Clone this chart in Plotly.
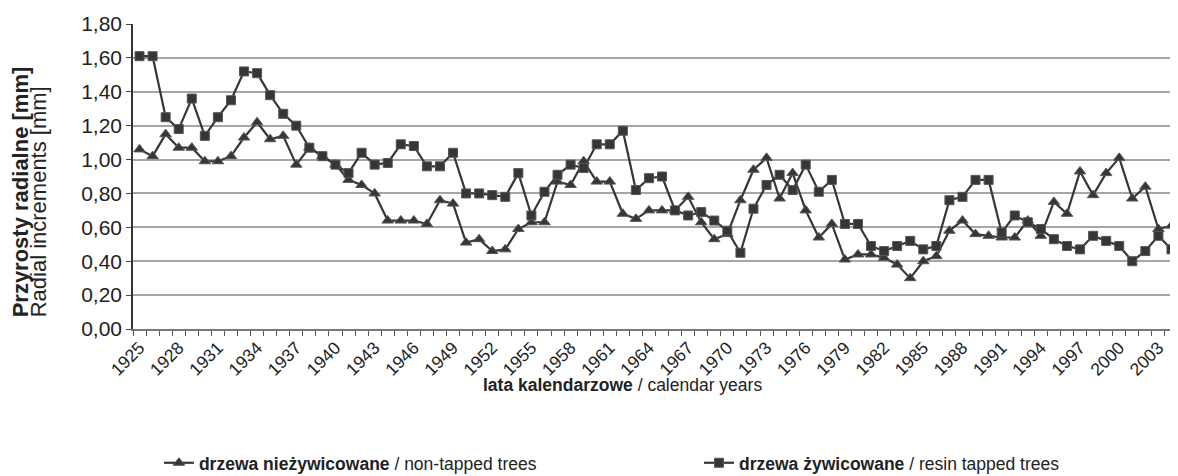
import plotly.graph_objects as go

# years 1925-2004
years = list(range(1925, 2005))

# drzewa nieżywicowane / non-tapped trees
non_tapped = [
    1.06, 1.02, 1.15, 1.07, 1.07, 0.99, 0.99, 1.02, 1.13, 1.22,
    1.12, 1.14, 0.97, 1.07, 1.02, 0.97, 0.88, 0.85, 0.80, 0.64,
    0.64, 0.64, 0.62, 0.76, 0.74, 0.51, 0.53, 0.46, 0.47, 0.59,
    0.63, 0.63, 0.87, 0.85, 0.99, 0.87, 0.87, 0.68, 0.65, 0.70,
    0.70, 0.70, 0.78, 0.63, 0.53, 0.56, 0.76, 0.94, 1.01, 0.77,
    0.92, 0.70, 0.54, 0.62, 0.41, 0.44, 0.44, 0.42, 0.38, 0.30,
    0.40, 0.43, 0.58, 0.64, 0.56, 0.55, 0.54, 0.54, 0.64, 0.55,
    0.75, 0.68, 0.93, 0.79, 0.92, 1.01, 0.77, 0.84, 0.59, 0.61,
]

# drzewa żywicowane / resin tapped trees
tapped = [
    1.61, 1.61, 1.25, 1.18, 1.36, 1.14, 1.25, 1.35, 1.52, 1.51,
    1.38, 1.27, 1.20, 1.07, 1.02, 0.97, 0.92, 1.04, 0.97, 0.98,
    1.09, 1.08, 0.96, 0.96, 1.04, 0.80, 0.80, 0.79, 0.78, 0.92,
    0.67, 0.81, 0.91, 0.97, 0.95, 1.09, 1.09, 1.17, 0.82, 0.89,
    0.90, 0.70, 0.67, 0.69, 0.64, 0.58, 0.45, 0.71, 0.85, 0.91,
    0.82, 0.97, 0.81, 0.88, 0.62, 0.62, 0.49, 0.46, 0.49, 0.52,
    0.47, 0.49, 0.76, 0.78, 0.88, 0.88, 0.57, 0.67, 0.63, 0.59,
    0.53, 0.49, 0.47, 0.55, 0.52, 0.49, 0.40, 0.46, 0.55, 0.47,
]

label_years = years[::3]

FONT = "Arial, Liberation Sans, sans-serif"
LINE = "#363636"

fig = go.Figure()

fig.add_trace(go.Scatter(
    x=years, y=non_tapped, mode="lines+markers",
    name="<b>drzewa nieżywicowane</b> / non-tapped trees",
    line=dict(color=LINE, width=2.2),
    marker=dict(symbol="triangle-up", size=10, color=LINE,
                line=dict(color="#555555", width=1)),
    cliponaxis=False, legend="legend",
))
fig.add_trace(go.Scatter(
    x=years, y=tapped, mode="lines+markers",
    name="<b>drzewa żywicowane</b> / resin tapped trees",
    line=dict(color=LINE, width=2.2),
    marker=dict(symbol="square", size=9, color=LINE,
                line=dict(color="#555555", width=1)),
    cliponaxis=False, legend="legend2",
))

legend_common = dict(orientation="h", yref="container", xref="container",
                     y=0.028, yanchor="middle", font=dict(size=17.5),
                     bgcolor="rgba(0,0,0,0)")

# page body has an 8px margin, so the figure is drawn 8px smaller
fig.update_layout(
    width=1170, height=468,
    margin=dict(l=125, r=0, t=16, b=147, autoexpand=False),
    paper_bgcolor="white", plot_bgcolor="white",
    separators=", ",
    font=dict(family=FONT, color="#222222", size=17),
    showlegend=True,
    legend=dict(x=0.129, **legend_common),
    legend2=dict(x=0.5906, **legend_common),
)

fig.update_xaxes(
    range=[1924.5, 2004.5], automargin=False,
    tickmode="array", tickvals=label_years,
    ticktext=[str(y) for y in label_years],
    tickangle=-45, tickfont=dict(size=17.5),
    ticks="", showgrid=False, zeroline=False,
    showline=True, linecolor="#777777", linewidth=1.5,
    minor=dict(tickmode="linear", tick0=1924.5, dtick=1,
               ticks="outside", ticklen=5, tickcolor="#555555",
               showgrid=False),
)
fig.update_yaxes(
    range=[0, 1.8], dtick=0.2, tickformat=".2f", automargin=False,
    tickfont=dict(size=21),
    ticks="outside", ticklen=5, tickcolor="#444444",
    showgrid=True, gridcolor="#a6a6a6", gridwidth=1.5,
    zeroline=False, showline=True, linecolor="#333333", linewidth=1.5,
)

fig.add_annotation(
    text="<b>Przyrosty radialne [mm]</b>",
    xref="paper", yref="paper", x=0, y=0.03, xanchor="center", yanchor="bottom",
    xshift=-113, textangle=-90, showarrow=False, font=dict(size=22),
)
fig.add_annotation(
    text="Radial increments [mm]",
    xref="paper", yref="paper", x=0, y=0.03, xanchor="center", yanchor="bottom",
    xshift=-95, textangle=-90, showarrow=False, font=dict(size=22),
)
fig.add_annotation(
    text="<b>lata kalendarzowe</b> / calendar years",
    xref="paper", yref="paper", x=0.468, y=0, xanchor="center", yanchor="middle",
    yshift=-56, showarrow=False, font=dict(size=17.5),
)

fig.write_html("out.html")
